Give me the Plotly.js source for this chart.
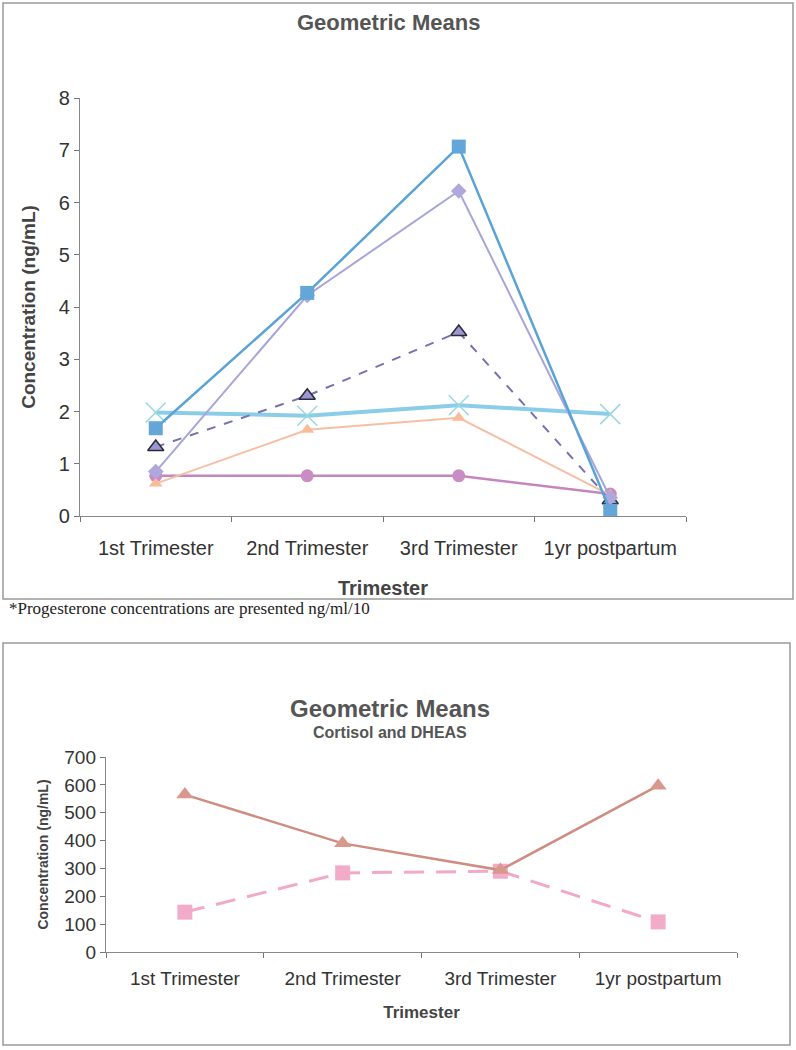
<!DOCTYPE html>
<html>
<head>
<meta charset="utf-8">
<script src="https://cdn.plot.ly/plotly-3.0.1.min.js"></script>
<style>
  html, body { margin: 0; padding: 0; background: #fff; }
  #chart { width: 796px; height: 1050px; }
</style>
</head>
<body>
<div id="chart"></div>
<script>
// Categorias (eixo x) dos dois gráficos
const trimesters = ["1st Trimester", "2nd Trimester", "3rd Trimester", "1yr postpartum"];

// Gráfico de cima: médias geométricas (ng/mL)
const blueSquares = [1.68, 4.27, 7.07, 0.1];
const lavenderDiamonds = [0.85, 4.22, 6.22, 0.35];
const dashedTriangles = [1.32, 2.3, 3.52, 0.3];
const cyanCrosses = [1.98, 1.92, 2.12, 1.95];
const peachTriangles = [0.62, 1.65, 1.88, 0.4];
const plumCircles = [0.77, 0.77, 0.77, 0.42];

// Gráfico de baixo: cortisol e DHEAS
const bottomTriangles = [565, 390, 294, 597];
const bottomSquares = [143, 284, 290, 108];

const W = 796, H = 1050;
const px = (x) => x / W;
const py = (y) => 1 - y / H;

const axisFont = { family: "Arial, Liberation Sans, sans-serif", size: 20, color: "#333" };

function line(x, y, xa, ya, color, width, dash, marker) {
  return {
    x: x, y: y, xaxis: xa, yaxis: ya,
    type: "scatter", mode: "lines+markers",
    line: { color: color, width: width, dash: dash || "solid" },
    marker: marker,
    hoverinfo: "x+y",
  };
}

const traces = [
  line(trimesters, plumCircles, "x", "y", "#C486BE", 2.5, "solid",
    { symbol: "circle", size: 13, color: "#C98CC4" }),
  line(trimesters, peachTriangles, "x", "y", "#F6BFA5", 2, "solid",
    { symbol: "triangle-up", size: 12, color: "#F8BC98" }),
  line(trimesters, cyanCrosses, "x", "y", "#8BCDE8", 4, "solid",
    { symbol: "x-thin-open", size: 20, color: "#9AD8DF", line: { width: 1.5, color: "#9AD8DF" } }),
  line(trimesters, dashedTriangles, "x", "y", "#7472B0", 2, "dash",
    { symbol: "triangle-up", size: 14, color: "#9C98CF", line: { width: 1.5, color: "#2a2a3a" } }),
  line(trimesters, lavenderDiamonds, "x", "y", "#A8A5DA", 2, "solid",
    { symbol: "diamond", size: 12, color: "#AEA8DC" }),
  line(trimesters, blueSquares, "x", "y", "#5AA3D6", 2.5, "solid",
    { symbol: "square", size: 14, color: "#64A6DA" }),

  line(trimesters, bottomSquares, "x2", "y2", "#F2A9C8", 3, "20px,12px",
    { symbol: "square", size: 15, color: "#F3ABCA" }),
  line(trimesters, bottomTriangles, "x2", "y2", "#CF8D82", 2.5, "solid",
    { symbol: "triangle-up", size: 15, color: "#D9988E" }),
];

const baseX = {
  type: "category",
  range: [-0.5, 3.5],
  tickson: "boundaries",
  ticks: "outside",
  ticklen: 5,
  tickcolor: "#777",
  showline: true,
  linecolor: "#888",
  linewidth: 1.2,
  showgrid: false,
  zeroline: false,
  fixedrange: true,
  tickfont: axisFont,
};
const baseY = {
  ticks: "outside",
  ticklen: 5,
  tickcolor: "#777",
  showline: true,
  linecolor: "#888",
  linewidth: 1.2,
  showgrid: false,
  zeroline: false,
  fixedrange: true,
  tickfont: axisFont,
};

const layout = {
  width: W,
  height: H,
  margin: { l: 0, r: 0, t: 0, b: 0 },
  paper_bgcolor: "#fff",
  plot_bgcolor: "rgba(0,0,0,0)",
  showlegend: false,
  xaxis: Object.assign({}, baseX, {
    domain: [px(80), px(686)],
    anchor: "y",
    ticklabelstandoff: 14,
    title: { text: "<b>Trimester</b>", font: { family: "Arial, sans-serif", size: 20, color: "#444" }, standoff: 22 },
  }),
  yaxis: Object.assign({}, baseY, {
    domain: [py(516), py(98)],
    range: [0, 8],
    dtick: 1,
    anchor: "x",
    title: { text: "<b>Concentration (ng/mL)</b>", font: { family: "Arial, sans-serif", size: 19, color: "#444" }, standoff: 18 },
  }),
  xaxis2: Object.assign({}, baseX, {
    domain: [px(106), px(737)],
    anchor: "y2",
    ticklabelstandoff: 9,
    tickfont: Object.assign({}, axisFont, { size: 19 }),
    title: { text: "<b>Trimester</b>", font: { family: "Arial, sans-serif", size: 17, color: "#444" }, standoff: 18 },
  }),
  yaxis2: Object.assign({}, baseY, {
    domain: [py(952), py(757)],
    range: [0, 700],
    dtick: 100,
    anchor: "x2",
    tickfont: Object.assign({}, axisFont, { size: 19 }),
    title: { text: "<b>Concentration (ng/mL)</b>", font: { family: "Arial, sans-serif", size: 14, color: "#444" }, standoff: 12 },
  }),
  shapes: [
    { type: "rect", xref: "paper", yref: "paper", x0: px(3), x1: px(793), y0: py(599), y1: py(3),
      line: { color: "#999", width: 1.5 } },
    { type: "rect", xref: "paper", yref: "paper", x0: px(3), x1: px(790), y0: py(1045), y1: py(643),
      line: { color: "#999", width: 1.5 } },
  ],
  annotations: [
    { text: "<b>Geometric Means</b>", xref: "paper", yref: "paper", x: px(388), y: py(23),
      xanchor: "center", yanchor: "middle", showarrow: false,
      font: { family: "Arial, sans-serif", size: 22, color: "#555" } },
    { text: "*Progesterone concentrations are presented ng/ml/10", xref: "paper", yref: "paper",
      x: px(7), y: py(608), xanchor: "left", yanchor: "middle", showarrow: false,
      font: { family: "Liberation Serif, Times New Roman, serif", size: 17, color: "#222" } },
    { text: "<b>Geometric Means</b>", xref: "paper", yref: "paper", x: px(390), y: py(708),
      xanchor: "center", yanchor: "middle", showarrow: false,
      font: { family: "Arial, sans-serif", size: 24, color: "#555" } },
    { text: "<b>Cortisol and DHEAS</b>", xref: "paper", yref: "paper", x: px(390), y: py(732),
      xanchor: "center", yanchor: "middle", showarrow: false,
      font: { family: "Arial, sans-serif", size: 16, color: "#555" } },
  ],
};

Plotly.newPlot("chart", traces, layout, { displayModeBar: false, staticPlot: true });
</script>
</body>
</html>
